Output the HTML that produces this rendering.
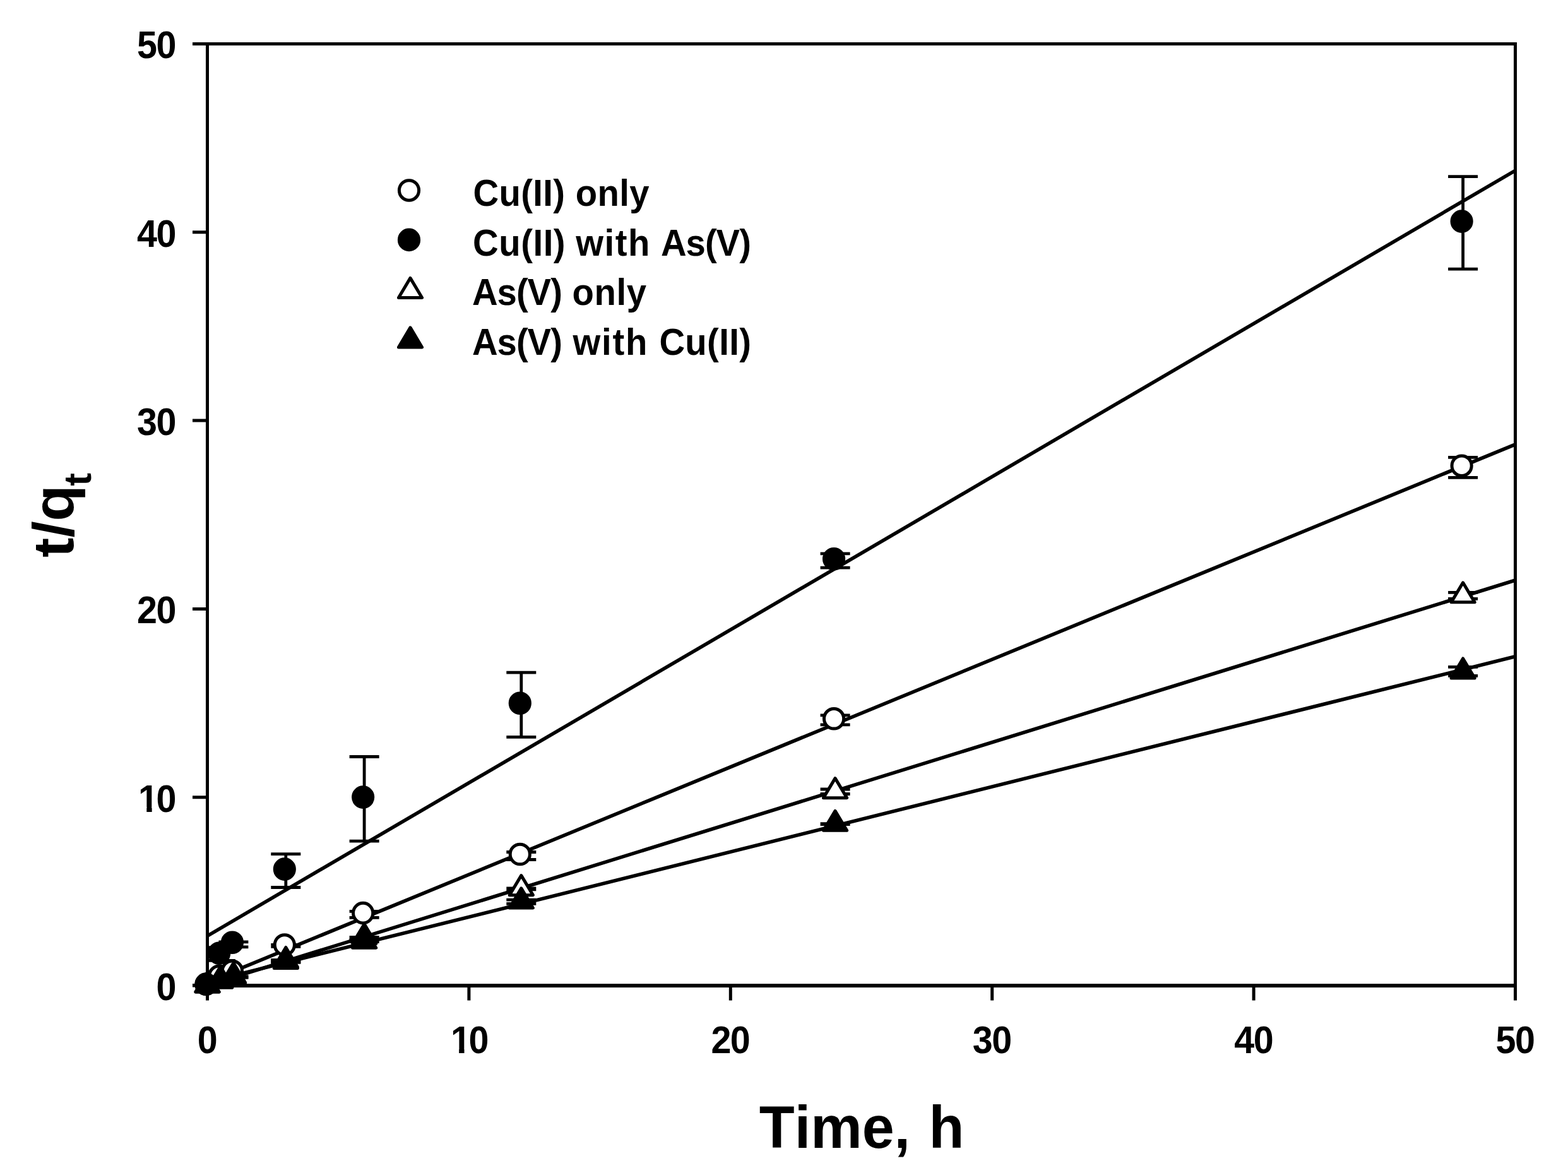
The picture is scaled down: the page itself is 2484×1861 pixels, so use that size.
<!DOCTYPE html>
<html lang="en"><head><meta charset="utf-8"><title>t/qt versus Time</title>
<style>
html,body{margin:0;padding:0;background:#fff;}
body{width:2484px;height:1861px;overflow:hidden;}
svg{display:block;}
text{font-family:"Liberation Sans", sans-serif;font-weight:bold;fill:#000;font-kerning:none;white-space:pre;}
.ax{stroke:#000;stroke-width:5.0;fill:none;stroke-linecap:butt;}
.fit{stroke:#000;stroke-width:5.6;fill:none;}
.eb{stroke:#000;stroke-width:4.8;fill:none;stroke-linecap:butt;}
.oc{stroke:#000;stroke-width:5.0;fill:#fff;}
.fc{stroke:#000;stroke-width:5.0;fill:#000;}
.ot{stroke:#000;stroke-width:5.0;fill:#fff;stroke-linejoin:round;}
.ft{stroke:#000;stroke-width:5.0;fill:#000;stroke-linejoin:round;}
</style></head><body>
<svg width="2484" height="1861" viewBox="0 0 2484 1861" role="img" aria-label="t/qt versus time for Cu(II) and As(V)">
<rect x="0" y="0" width="2484" height="1861" fill="#fff"/>
<g id="fits">
<line class="fit" x1="328.5" y1="1482.3" x2="2400.5" y2="270.1"/>
<line class="fit" x1="328.5" y1="1555.4" x2="2400.5" y2="703.8"/>
<line class="fit" x1="328.5" y1="1560.7" x2="2400.5" y2="919.0"/>
<line class="fit" x1="328.5" y1="1555.4" x2="2400.5" y2="1039.8"/>
</g>
<g id="s1">
<path class="eb" d="M328.5 1560.5V1560.5M305.0 1560.5H352.0M305.0 1560.5H352.0"/>
<path class="eb" d="M452.8 1496.4V1499.4M429.3 1496.4H476.3M429.3 1499.4H476.3"/>
<path class="eb" d="M577.1 1443.3V1453.4M553.6 1443.3H600.6M553.6 1453.4H600.6"/>
<path class="eb" d="M825.8 1349.5V1361.5M802.3 1349.5H849.3M802.3 1361.5H849.3"/>
<path class="eb" d="M1323.1 1132.8V1147.9M1299.6 1132.8H1346.6M1299.6 1147.9H1346.6"/>
<path class="eb" d="M2317.6 724.4V756.4M2294.1 724.4H2341.1M2294.1 756.4H2341.1"/>
<ellipse class="oc" cx="326.50" cy="1558.90" rx="15.60" ry="15.80"/>
<ellipse class="oc" cx="347.22" cy="1545.80" rx="15.60" ry="15.80"/>
<ellipse class="oc" cx="367.94" cy="1537.70" rx="15.60" ry="15.80"/>
<ellipse class="oc" cx="450.82" cy="1496.50" rx="15.60" ry="15.80"/>
<ellipse class="oc" cx="575.14" cy="1446.10" rx="15.60" ry="15.80"/>
<ellipse class="oc" cx="823.78" cy="1353.00" rx="15.60" ry="15.80"/>
<ellipse class="oc" cx="1321.06" cy="1138.30" rx="15.60" ry="15.80"/>
<ellipse class="oc" cx="2315.62" cy="737.70" rx="15.60" ry="15.80"/>
</g>
<g id="s2">
<path class="eb" d="M328.5 1560.5V1560.5M305.0 1560.5H352.0M305.0 1560.5H352.0"/>
<path class="eb" d="M349.2 1500.7V1521.3M327.5 1500.7H372.7M327.5 1521.3H372.7"/>
<path class="eb" d="M369.9 1491.9V1499.8M346.4 1491.9H393.4M346.4 1499.8H393.4"/>
<path class="eb" d="M452.8 1352.7V1405.5M429.3 1352.7H476.3M429.3 1405.5H476.3"/>
<path class="eb" d="M577.1 1198.5V1332.1M553.6 1198.5H600.6M553.6 1332.1H600.6"/>
<path class="eb" d="M825.8 1065.2V1167.3M802.3 1065.2H849.3M802.3 1167.3H849.3"/>
<path class="eb" d="M1323.1 876.8V899.2M1299.6 876.8H1346.6M1299.6 899.2H1346.6"/>
<path class="eb" d="M2317.6 279.6V426.2M2294.1 279.6H2341.1M2294.1 426.2H2341.1"/>
<ellipse class="fc" cx="326.50" cy="1558.90" rx="15.60" ry="15.80"/>
<ellipse class="fc" cx="347.22" cy="1509.80" rx="15.60" ry="15.80"/>
<ellipse class="fc" cx="367.94" cy="1492.75" rx="15.60" ry="15.80"/>
<ellipse class="fc" cx="450.82" cy="1376.60" rx="15.60" ry="15.80"/>
<ellipse class="fc" cx="575.14" cy="1262.60" rx="15.60" ry="15.80"/>
<ellipse class="fc" cx="823.78" cy="1113.80" rx="15.60" ry="15.80"/>
<ellipse class="fc" cx="1321.06" cy="885.30" rx="15.60" ry="15.80"/>
<ellipse class="fc" cx="2315.62" cy="350.60" rx="15.60" ry="15.80"/>
</g>
<g id="s3">
<path class="eb" d="M328.5 1560.5V1560.5M305.0 1560.5H352.0M305.0 1560.5H352.0"/>
<path class="eb" d="M369.9 1547.0V1548.0M346.4 1547.0H393.4M346.4 1548.0H393.4"/>
<path class="eb" d="M452.8 1520.6V1524.0M429.3 1520.6H476.3M429.3 1524.0H476.3"/>
<path class="eb" d="M577.1 1484.3V1487.0M553.6 1484.3H600.6M553.6 1487.0H600.6"/>
<path class="eb" d="M825.8 1407.0V1408.8M802.3 1407.0H849.3M802.3 1408.8H849.3"/>
<path class="eb" d="M1323.1 1250.0V1257.5M1299.6 1250.0H1346.6M1299.6 1257.5H1346.6"/>
<path class="eb" d="M2317.6 938.4V948.4M2294.1 938.4H2341.1M2294.1 948.4H2341.1"/>
<polygon class="ot" points="328.50,1540.05 347.05,1571.10 309.95,1571.10"/>
<polygon class="ot" points="349.22,1533.30 367.77,1564.35 330.67,1564.35"/>
<polygon class="ot" points="369.94,1527.30 388.49,1558.35 351.39,1558.35"/>
<polygon class="ot" points="452.82,1500.50 471.37,1531.55 434.27,1531.55"/>
<polygon class="ot" points="577.14,1463.50 595.69,1494.55 558.59,1494.55"/>
<polygon class="ot" points="825.78,1386.60 844.33,1417.65 807.23,1417.65"/>
<polygon class="ot" points="1323.06,1232.60 1341.61,1263.65 1304.51,1263.65"/>
<polygon class="ot" points="2317.62,922.80 2336.17,953.85 2299.07,953.85"/>
</g>
<g id="s4">
<path class="eb" d="M328.5 1560.5V1560.5M305.0 1560.5H352.0M305.0 1560.5H352.0"/>
<path class="eb" d="M369.9 1547.0V1548.0M346.4 1547.0H393.4M346.4 1548.0H393.4"/>
<path class="eb" d="M452.8 1520.6V1524.0M429.3 1520.6H476.3M429.3 1524.0H476.3"/>
<path class="eb" d="M577.1 1489.0V1491.6M553.6 1489.0H600.6M553.6 1491.6H600.6"/>
<path class="eb" d="M825.8 1425.2V1431.4M802.3 1425.2H849.3M802.3 1431.4H849.3"/>
<path class="eb" d="M1323.1 1304.6V1305.6M1299.6 1304.6H1346.6M1299.6 1305.6H1346.6"/>
<path class="eb" d="M2317.6 1056.3V1070.4M2294.1 1056.3H2341.1M2294.1 1070.4H2341.1"/>
<polygon class="ft" points="328.50,1540.05 347.05,1571.10 309.95,1571.10"/>
<polygon class="ft" points="349.22,1530.80 367.77,1561.85 330.67,1561.85"/>
<polygon class="ft" points="369.94,1525.10 388.49,1556.15 351.39,1556.15"/>
<polygon class="ft" points="452.82,1502.50 471.37,1533.55 434.27,1533.55"/>
<polygon class="ft" points="577.14,1470.15 595.69,1501.20 558.59,1501.20"/>
<polygon class="ft" points="825.78,1406.90 844.33,1437.95 807.23,1437.95"/>
<polygon class="ft" points="1323.06,1284.30 1341.61,1315.35 1304.51,1315.35"/>
<polygon class="ft" points="2317.62,1043.00 2336.17,1074.05 2299.07,1074.05"/>
</g>
<g id="axes">
<rect class="ax" x="328.5" y="69.5" width="2072.0" height="1491.5"/>
<line class="ax" style="stroke-width:5.8" x1="326.0" y1="1561.1" x2="2403.0" y2="1561.1"/>
<path class="ax" d="M305.0 1561.0H328.5M328.5 1561.0V1584.5M305.0 1262.7H328.5M742.9 1561.0V1584.5M305.0 964.4H328.5M1157.3 1561.0V1584.5M305.0 666.1H328.5M1571.7 1561.0V1584.5M305.0 367.8H328.5M1986.1 1561.0V1584.5M305.0 69.5H328.5M2400.5 1561.0V1584.5"/>
</g>
<g id="yticks">
<text transform="translate(0 1583.80) scale(0.9500 1)" font-size="60.50"><tspan x="260.62">0</tspan></text>
<clipPath id="c1" clipPathUnits="userSpaceOnUse"><path clip-rule="evenodd" d="M-200 -200H3000V200H-200ZM232.43 -7.39H244.53V8.00H232.43ZM253.33 -7.39H263.32V8.00H253.33Z"/></clipPath><text transform="translate(0 1285.50) scale(0.9500 1)" font-size="60.50" clip-path="url(#c1)"><tspan x="230.66">1</tspan><tspan x="260.62">0</tspan></text>
<text transform="translate(0 987.20) scale(0.9500 1)" font-size="60.50"><tspan x="228.56">2</tspan><tspan x="260.62">0</tspan></text>
<text transform="translate(0 688.90) scale(0.9500 1)" font-size="60.50"><tspan x="228.56">3</tspan><tspan x="260.62">0</tspan></text>
<text transform="translate(0 390.60) scale(0.9500 1)" font-size="60.50"><tspan x="228.56">4</tspan><tspan x="260.62">0</tspan></text>
<text transform="translate(0 92.30) scale(0.9500 1)" font-size="60.50"><tspan x="228.56">5</tspan><tspan x="260.62">0</tspan></text>
</g>
<g id="xticks">
<text transform="translate(0 1668.40) scale(0.9500 1)" font-size="60.50"><tspan x="329.28">0</tspan></text>
<clipPath id="c11" clipPathUnits="userSpaceOnUse"><path clip-rule="evenodd" d="M-200 -200H3000V200H-200ZM753.34 -7.39H765.43V8.00H753.34ZM774.23 -7.39H784.22V8.00H774.23Z"/></clipPath><text transform="translate(0 1668.40) scale(0.9500 1)" font-size="60.50" clip-path="url(#c11)"><tspan x="751.56">1</tspan><tspan x="781.53">0</tspan></text>
<text transform="translate(0 1668.40) scale(0.9500 1)" font-size="60.50"><tspan x="1185.67">2</tspan><tspan x="1217.74">0</tspan></text>
<text transform="translate(0 1668.40) scale(0.9500 1)" font-size="60.50"><tspan x="1621.88">3</tspan><tspan x="1653.95">0</tspan></text>
<text transform="translate(0 1668.40) scale(0.9500 1)" font-size="60.50"><tspan x="2058.09">4</tspan><tspan x="2090.16">0</tspan></text>
<text transform="translate(0 1668.40) scale(0.9500 1)" font-size="60.50"><tspan x="2494.30">5</tspan><tspan x="2526.37">0</tspan></text>
</g>
<text transform="translate(0 1817.80) scale(0.9643 1)" font-size="95.00"><tspan x="1247.40" letter-spacing="-0.00">Time,</tspan> <tspan x="1526.08" letter-spacing="0.00">h</tspan></text>
<text transform="translate(116.1 882.9) rotate(-90) scale(1 0.972)" font-size="94">t/q<tspan font-size="62" dx="-1.7" dy="28.2">t</tspan></text>
<g id="legend">
<ellipse class="oc" cx="648.00" cy="301.45" rx="15.60" ry="15.80"/>
<text transform="translate(0 325.90) scale(0.9380 1)" font-size="60.00"><tspan x="799.14" letter-spacing="0.35">Cu(II)</tspan> <tspan x="972.07" letter-spacing="0.36">only</tspan></text>
<ellipse class="fc" cx="648.00" cy="379.90" rx="15.60" ry="15.80"/>
<text transform="translate(0 405.10) scale(0.9380 1)" font-size="60.00"><tspan x="798.61" letter-spacing="0.58">Cu(II)</tspan> <tspan x="972.67" letter-spacing="1.60">with</tspan> <tspan x="1116.20" letter-spacing="-1.08">As(V)</tspan></text>
<polygon class="ot" points="650.00,440.40 668.55,471.45 631.45,471.45"/>
<text transform="translate(0 482.60) scale(0.9380 1)" font-size="60.00"><tspan x="797.44" letter-spacing="-1.08">As(V)</tspan> <tspan x="966.53" letter-spacing="0.64">only</tspan></text>
<polygon class="ft" points="650.00,518.90 668.55,549.95 631.45,549.95"/>
<text transform="translate(0 561.60) scale(0.9380 1)" font-size="60.00"><tspan x="797.44" letter-spacing="-1.08">As(V)</tspan> <tspan x="967.55" letter-spacing="1.85">with</tspan> <tspan x="1113.42" letter-spacing="0.37">Cu(II)</tspan></text>
</g>
</svg>
</body></html>
